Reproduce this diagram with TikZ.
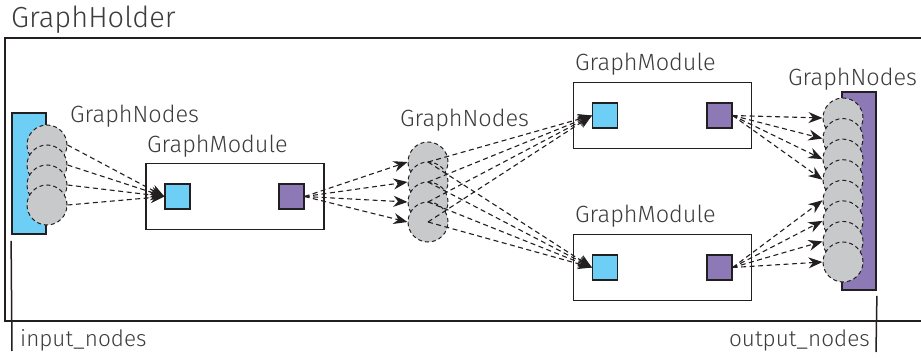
\documentclass[tikz,border=0pt]{standalone}
\usepackage{fontspec}
\setmainfont{Fira Sans}[UprightFont={* Light}]
\usepackage{tikz}
\usetikzlibrary{arrows.meta, positioning}
\definecolor{portblue}{RGB}{110, 207, 246}
\definecolor{portpurple}{RGB}{140, 121, 181}
\definecolor{nodegray}{RGB}{200, 201, 203}
\definecolor{inkgray}{RGB}{35, 31, 32}
\definecolor{textgray}{RGB}{60, 60, 60}
\tikzstyle{module} = [rectangle, draw=inkgray, line width=1.2pt, minimum width=178pt,
                      minimum height=66pt, inner sep=0pt]
\tikzstyle{inport} = [rectangle, draw=inkgray, fill=portblue, line width=1.2pt,
                      minimum size=25pt, inner sep=0pt]
\tikzstyle{outport} = [inport, fill=portpurple]
\tikzstyle{gnode} = [circle, fill=nodegray, draw=inkgray, dash pattern=on 4pt off 3pt,
                     line width=1pt, minimum size=40pt, inner sep=0pt]
\tikzstyle{bar} = [rectangle, draw=inkgray, line width=1.8pt, minimum width=34pt, inner sep=0pt]
\tikzstyle{flow} = [-{Stealth[length=14pt, width=11pt]}, draw=inkgray, line width=1.1pt,
                    dash pattern=on 5pt off 3.5pt]
\tikzstyle{lbl} = [font=\fontsize{23.5}{26}\selectfont, text=textgray, inner sep=0pt, anchor=base west]

\begin{document}
\begin{tikzpicture}[x=1pt, y=-1pt]
    \useasboundingbox (0,0) rectangle (921,358);
    % Holder frame
    \node[lbl, font=\fontsize{29}{31}\selectfont] (holder) at (11,28) {GraphHolder};
    \draw[inkgray, line width=2pt] (921,38) -- (5,38) -- (5,321) -- (921,321);

    % Input side
    \node[bar, fill=portblue, minimum height=121pt] (inbar) at (29,173.5) {};
    \foreach \k in {0,...,3}
        \node[gnode] (ic\k) at (47,145+20*\k) {};
    \node[lbl] (inlabel) at (70,123) {GraphNodes};
    \node[lbl, font=\fontsize{22.5}{25}\selectfont] (inname) at (20,346) {input\_nodes};
    \coordinate (inend) at (12,351);
    \draw[inkgray, line width=1.5pt] ([yshift=-6pt]inbar.south west) -- (inend);

    % First module
    \node[module] (mod1) at (235,196.5) {};
    \node[lbl] (mod1label) at (147,153) {GraphModule};
    \node[inport] (in1) at (177.5,196.5) {};
    \node[outport] (out1) at (291.5,196.5) {};
    \foreach \k in {0,...,3}
        \draw[flow] (ic\k.east) -- (in1.west);

    % Middle nodes
    \foreach \k in {0,...,3}
        \node[gnode] (mc\k) at (428,162+20*\k) {};
    \node[lbl] (midlabel) at (400,127) {GraphNodes};
    \foreach \k in {0,...,3}
        \draw[flow] (out1.east) -- (mc\k.west);

    % Two parallel modules
    \node[module] (mod2) at (662.5,115.5) {};
    \node[lbl] (mod2label) at (575,71) {GraphModule};
    \node[inport] (in2) at (605,115.5) {};
    \node[outport] (out2) at (719.5,115.5) {};
    \node[module] (mod3) at (662.5,267.5) {};
    \node[lbl] (mod3label) at (575,223) {GraphModule};
    \node[inport] (in3) at (605,267.5) {};
    \node[outport] (out3) at (719.5,267.5) {};
    \foreach \k in {0,...,3} {
        \draw[flow] (mc\k.center) -- (in2.west);
        \draw[flow] (mc\k.center) -- (in3.west);
    }

    % Output side
    \node[bar, fill=portpurple, minimum height=198pt] (outbar) at (859,191) {};
    \foreach \k in {0,...,7}
        \node[gnode] (oc\k) at (843,118+144/7*\k) {};
    \node[lbl] (outlabel) at (788,86) {GraphNodes};
    \foreach \k in {0,...,3}
        \draw[flow] (out2.east) -- (oc\k.west);
    \foreach \k in {4,...,7}
        \draw[flow] (out3.east) -- (oc\k.west);
    \node[lbl, anchor=base east, font=\fontsize{22.5}{25}\selectfont] (outname) at (870,346) {output\_nodes};
    \coordinate (outend) at (876,352);
    \draw[inkgray, line width=1.5pt] ([yshift=-5pt]outbar.south east) -- (outend);
\end{tikzpicture}
\end{document}
